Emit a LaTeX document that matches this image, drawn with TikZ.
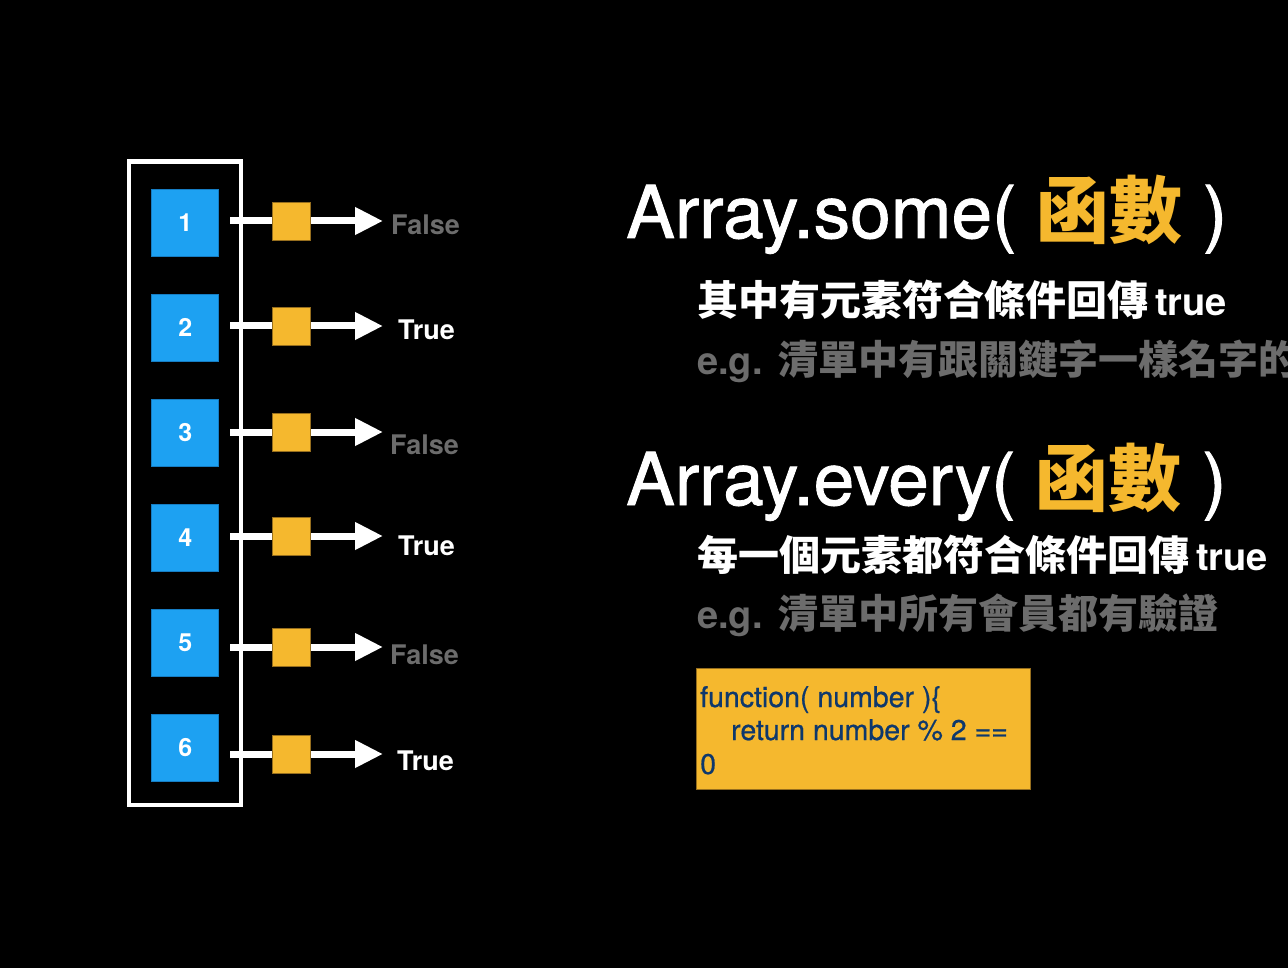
\documentclass[tikz,border=0pt]{standalone}
\usepackage{fontspec}
\setmainfont{TeX Gyre Heros}
\newfontfamily\headfont{TeX Gyre Heros}[FakeBold=1.2]
\newfontfamily\codefont{TeX Gyre Heros}[FakeBold=0.7]
\newfontfamily\cjkfont{Noto Sans CJK TC}
\usetikzlibrary{arrows.meta}

\definecolor{bg}{RGB}{0,0,0}
\definecolor{cellblue}{RGB}{29,161,242}
\definecolor{cellblueedge}{RGB}{22,125,195}
\definecolor{gold}{RGB}{245,184,46}
\definecolor{goldedge}{RGB}{150,110,30}
\definecolor{dimgray}{RGB}{108,108,108}
\definecolor{codeblue}{RGB}{14,56,108}

\begin{document}
\begin{tikzpicture}[x=1pt,y=-1pt,
  cell/.style={draw=cellblueedge, line width=0.8pt, fill=cellblue,
    minimum width=67pt, minimum height=67pt, inner sep=0pt, text=white,
    font=\fontsize{25}{25}\selectfont\bfseries},
  gate/.style={draw=goldedge, line width=0.8pt, fill=gold,
    minimum width=38pt, minimum height=38pt, inner sep=0pt},
  flow/.style={white, line width=7pt, -{Triangle[length=28pt,width=26pt]}},
  frame/.style={draw=white, line width=4.5pt, inner sep=0pt},
  result/.style={anchor=base west, inner sep=0pt,
    font=\fontsize{27}{27}\selectfont\bfseries},
  title/.style={anchor=base west, inner sep=0pt, text=white,
    font=\headfont\fontsize{73}{73}\selectfont},
  desc/.style={anchor=base west, inner sep=0pt},
  codebox/.style={draw=goldedge, line width=0.8pt, fill=gold, inner sep=0pt,
    minimum width=334pt, minimum height=121pt},
  codeline/.style={anchor=base west, inner sep=0pt, text=codeblue,
    font=\codefont\fontsize{28.5}{28.5}\selectfont},
]
% canvas
\useasboundingbox (0,0) rectangle (1288,968);
\fill[bg] (0,0) rectangle (1288,968);

% the array frame and its cells
\node[frame, minimum width=112pt, minimum height=643.5pt] (array) at (185,483.25) {};
\node[cell] (c1) at (185.3,222.5) {1};
\node[cell] (c2) at (185.3,327.5) {2};
\node[cell] (c3) at (185.3,432.5) {3};
\node[cell] (c4) at (185.3,537.5) {4};
\node[cell] (c5) at (185.3,642.5) {5};
\node[cell] (c6) at (185.3,747.5) {6};

% test arrows with the callback squares and their results
\foreach \i/\y/\lx/\ly/\lab/\col in {1/221/391/235/False/dimgray, 2/326/398/340/True/white,
    3/432/390/454/False/dimgray, 4/536/398/555/True/white,
    5/647/390/664/False/dimgray, 6/754/397/770/True/white}{
  \coordinate (s\i) at (230,\y);
  \coordinate (e\i) at (383,\y);
  \draw[flow] (s\i) -- (e\i);
  \node[gate] (q\i) at (291,\y) {};
  \node[result, text=\col] (r\i) at (\lx,\ly) {\lab};
}

% Array.some
\node[title] (some) at (626,238) {Array.some( {\cjkfont\bfseries\color{gold}函數} )};
\node[desc, text=white] (somedesc) at (697,316)
  {{\cjkfont\bfseries\fontsize{41}{41}\selectfont 其中有元素符合條件回傳}\fontsize{38}{38}\selectfont\bfseries\hspace{7pt}true};
\node[desc, text=dimgray] (someeg) at (697,374)
  {\fontsize{38}{38}\selectfont\bfseries e.g.\ \hspace{5pt}{\cjkfont\fontsize{40}{40}\selectfont 清單中有跟關鍵字一樣名字的}};

% Array.every
\node[title] (every) at (626,505) {Array.every( {\cjkfont\bfseries\color{gold}函數} )};
\node[desc, text=white] (everydesc) at (697,570)
  {{\cjkfont\bfseries\fontsize{41}{41}\selectfont 每一個元素都符合條件回傳}\fontsize{38}{38}\selectfont\bfseries\hspace{7pt}true};
\node[desc, text=dimgray] (everyeg) at (697,628)
  {\fontsize{38}{38}\selectfont\bfseries e.g.\ \hspace{5pt}{\cjkfont\fontsize{40}{40}\selectfont 清單中所有會員都有驗證}};

% example callback
\node[codebox] (code) at (863,729) {};
\node[codeline] (code1) at (700,707) {function( number )\{};
\node[codeline] (code2) at (731,740) {return number \% 2 ==};
\node[codeline] (code3) at (700,774) {0};
\end{tikzpicture}
\end{document}
